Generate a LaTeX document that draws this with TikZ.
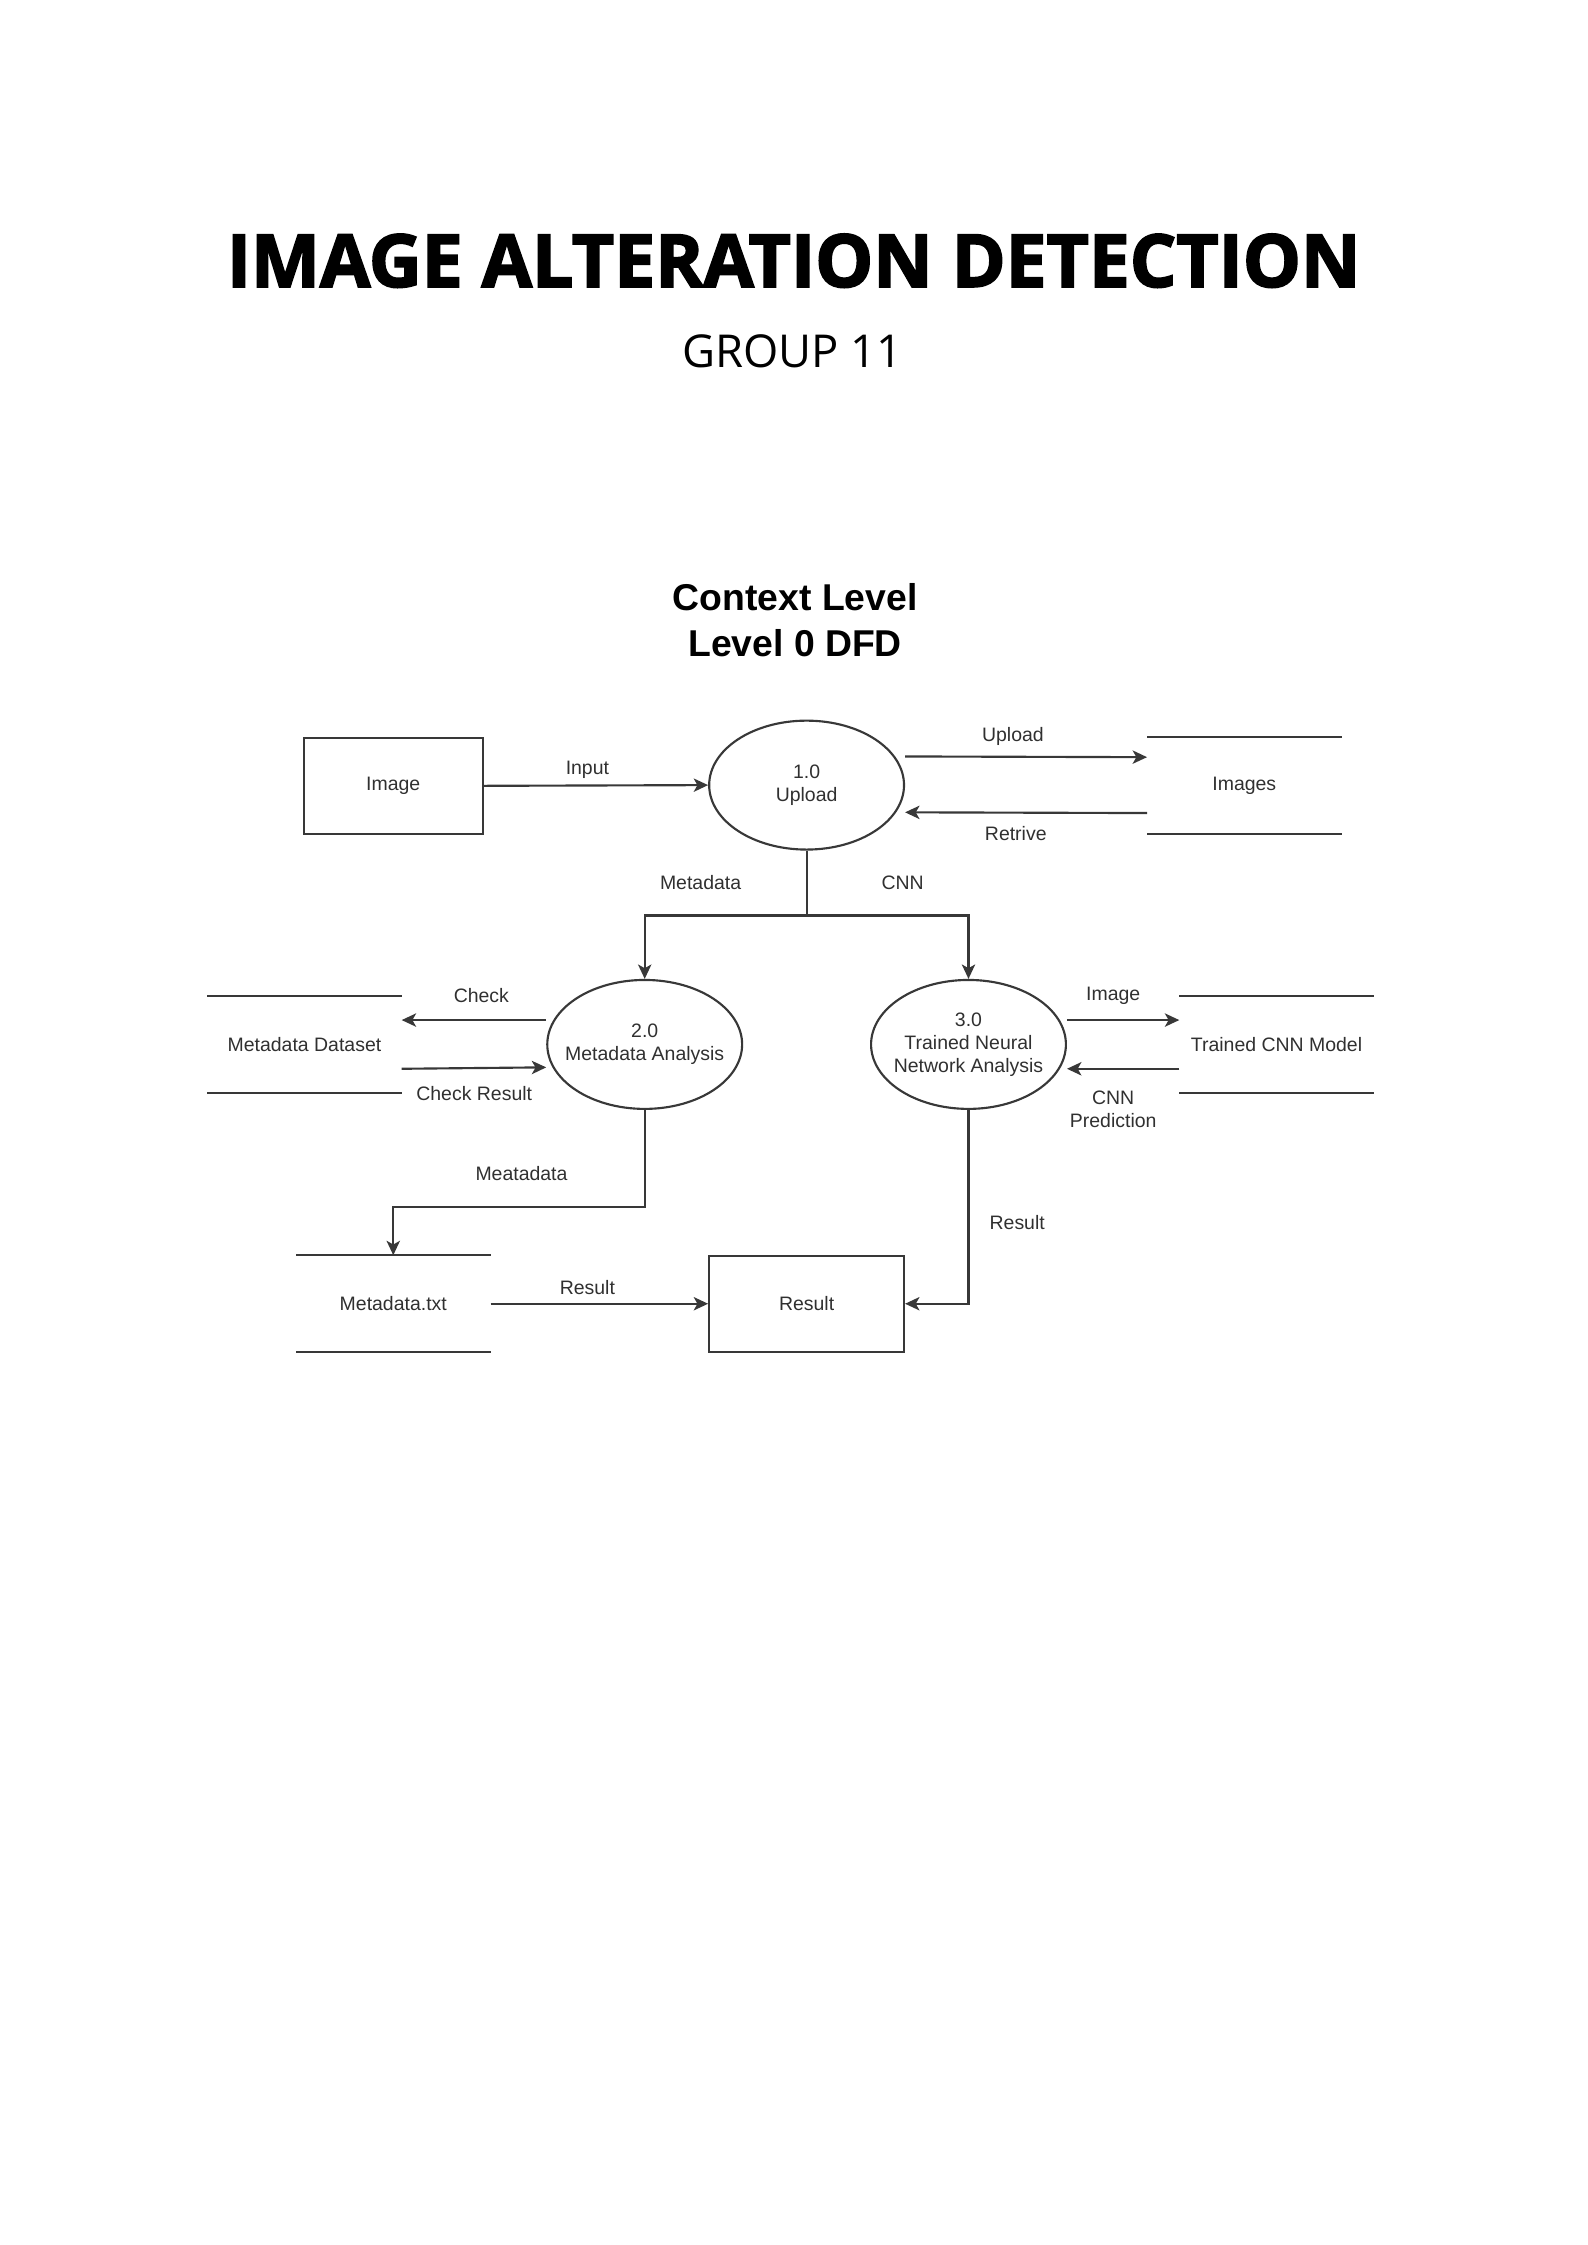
\documentclass[tikz,border=0pt]{standalone}
\usepackage{fontspec}
\setmainfont{Liberation Sans}
\newfontfamily\opensans{Open Sans}[BoldFeatures={FakeBold=2.5}]
\usetikzlibrary{shapes.geometric,arrows.meta}
\newlength\dpx
\setlength\dpx{0.5373pt}
\definecolor{dfdline}{HTML}{383838}
\definecolor{dfdtext}{HTML}{303030}
\tikzset{
  dfd/.style={font=\fontsize{7.3}{8.6}\selectfont, text=dfdtext},
  process/.style={dfd, ellipse, draw=dfdline, line width=0.8pt, inner xsep=-7.5\dpx, inner ysep=0pt,
    minimum width=136\dpx, minimum height=90\dpx, align=center},
  entity/.style={dfd, rectangle, draw=dfdline, line width=0.8pt, inner sep=0pt,
    minimum height=67\dpx},
  store/.style={dfd, rectangle, inner sep=0pt, minimum width=135\dpx, minimum height=67\dpx},
  flow/.style={draw=dfdline, line width=0.8pt, -{Stealth[length=5.4pt,width=5pt,inset=1.4pt]}},
  wire/.style={draw=dfdline, line width=0.8pt},
  lbl/.style={dfd, inner sep=0pt, align=center}
}
\begin{document}
\begin{tikzpicture}[x=\dpx, y=-\dpx]
\useasboundingbox (0,0) rectangle (1108,1567);

% headings
\node (title) at (554,182) {\opensans\bfseries\fontsize{27.4}{30}\selectfont IMAGE ALTERATION DETECTION};
\node (group) at (553,245) {\opensans\fontsize{17}{20}\selectfont GROUP 11};
\node[align=center, font=\bfseries\fontsize{14}{17.2}\selectfont] (ctx) at (555,433) {Context Level\\ Level 0 DFD};

% processes
\node[process] (pu) at (563,548) {1.0\\Upload};
\node[process] (pm) at (450,729) {2.0\\Metadata Analysis};
\node[process] (pc) at (676,729) {3.0\\Trained Neural\\Network Analysis};

% entities
\node[entity, minimum width=125\dpx] (img) at (274.5,548.5) {Image};
\node[entity, minimum width=136\dpx] (res) at (563,910) {Result};

% data stores
\node[store] (simg) at (868.5,548.5) {Images};
\node[store] (sdata) at (212.5,729) {Metadata Dataset};
\node[store] (smodel) at (891,729) {Trained CNN Model};
\node[store] (stxt) at (274.5,910) {Metadata.txt};
\foreach \s in {simg,sdata,smodel,stxt}
  \draw[wire] (\s.north west) -- (\s.north east) (\s.south west) -- (\s.south east);

% flows
\draw[flow] (img.east) -- (pu.west);
\draw[flow] ([yshift=20\dpx]pu.east) -- ([yshift=20\dpx]simg.west);
\draw[flow] ([yshift=-19\dpx]simg.west) -- ([yshift=-19\dpx]pu.east);
\coordinate (split) at (563,639);
\draw[wire] (pu.south) -- (split);
\draw[flow] (split) -| (pm.north);
\draw[flow] (split) -| (pc.north);
\draw[flow] ([yshift=17\dpx]pm.west) -- ([yshift=17\dpx]sdata.east);
\draw[flow] ([yshift=-17\dpx]sdata.east) -- ([yshift=-16\dpx]pm.west);
\draw[flow] ([yshift=17\dpx]pc.east) -- ([yshift=17\dpx]smodel.west);
\draw[flow] ([yshift=-17\dpx]smodel.west) -- ([yshift=-17\dpx]pc.east);
\draw[flow] (pm.south) -- ++(0,68) -| (stxt.north);
\draw[flow] (stxt.east) -- (res.west);
\draw[flow] (pc.south) |- (res.east);

% flow labels
\node[lbl] (lin) at (410,537) {Input};
\node[lbl] (lup) at (707,514) {Upload};
\node[lbl] (lret) at (709,582) {Retrive};
\node[lbl] (lmeta) at (489,616) {Metadata};
\node[lbl] (lcnn) at (630,616) {CNN};
\node[lbl] (lchk) at (336,695) {Check};
\node[lbl] (lchkr) at (331,763) {Check Result};
\node[lbl] (limg) at (777,695) {Image};
\node[lbl] (lpred) at (777,774) {CNN\\Prediction};
\node[lbl] (lmeat) at (364,819) {Meatadata};
\node[lbl] (lres) at (410,899) {Result};
\node[lbl] (lres2) at (710,853) {Result};
\end{tikzpicture}
\end{document}
